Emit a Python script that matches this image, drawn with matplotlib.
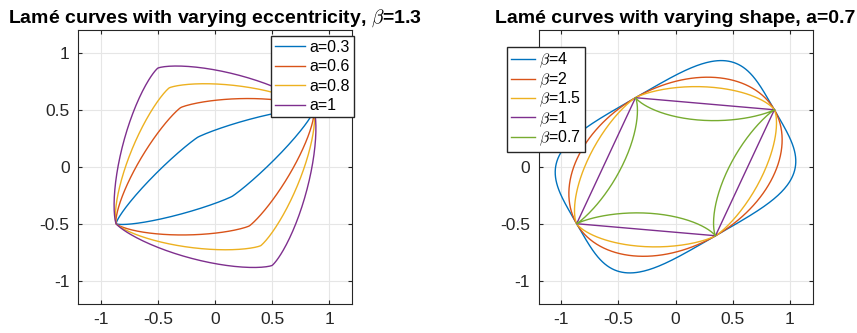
import numpy as np
import matplotlib
matplotlib.use("Agg")
import matplotlib.pyplot as plt

plt.rcParams['font.family'] = ['Liberation Sans', 'DejaVu Sans']
plt.rcParams['mathtext.fontset'] = 'cm'

# Parameters of the two families of Lamé curves
ecc_values = [0.3, 0.6, 0.8, 1.0]
ecc_labels = ['a=0.3', 'a=0.6', 'a=0.8', 'a=1']
beta_fixed = 1.3

shape_values = [4, 2, 1.5, 1, 0.7]
shape_labels = [r'$\beta$=4', r'$\beta$=2', r'$\beta$=1.5', r'$\beta$=1', r'$\beta$=0.7']
a_fixed = 0.7

rotation_deg = 30
ticks = [-1, -0.5, 0, 0.5, 1]
tick_labels = ['-1', '-0.5', '0', '0.5', '1']

colors = ['#0072BD', '#D95319', '#EDB120', '#7E2F8E', '#77AC30']


def lame(a, beta, n=400):
    t = np.linspace(0, 2 * np.pi, n)
    c, s = np.cos(t), np.sin(t)
    x = np.sign(c) * np.abs(c) ** (2.0 / beta)
    y = a * np.sign(s) * np.abs(s) ** (2.0 / beta)
    th = np.deg2rad(rotation_deg)
    xr = x * np.cos(th) - y * np.sin(th)
    yr = x * np.sin(th) + y * np.cos(th)
    return xr, yr


fig = plt.figure(figsize=(8.57, 3.33), dpi=100)
W, H = 857, 333
ax1 = fig.add_axes([78 / W, 1 - 303.5 / H, 274 / W, 273.5 / H])
ax2 = fig.add_axes([538.5 / W, 1 - 303.5 / H, 274 / W, 273.5 / H])


def style(ax):
    ax.set_xlim(-1.2, 1.2)
    ax.set_ylim(-1.2, 1.2)
    ax.set_xticks(ticks)
    ax.set_yticks(ticks)
    ax.set_xticklabels(tick_labels)
    ax.set_yticklabels(tick_labels)
    ax.grid(True, color='#e6e6e6', linewidth=0.8)
    ax.set_axisbelow(True)
    for sp in ax.spines.values():
        sp.set_color('#262626')
        sp.set_linewidth(0.8)
    ax.tick_params(direction='in', length=3, width=0.8, color='#262626',
                   labelsize=12.5, labelcolor='#262626', top=True, right=True,
                   pad=6)


legend_kw = dict(loc='upper left', bbox_transform=fig.transFigure,
                 fontsize=11.5, frameon=True, fancybox=False,
                 edgecolor='#262626', framealpha=1,
                 handletextpad=0.25, borderpad=0.25,
                 borderaxespad=0)

for a, lab, col in zip(ecc_values, ecc_labels, colors):
    x, y = lame(a, beta_fixed)
    ax1.plot(x, y, color=col, linewidth=1.0, label=lab)
style(ax1)
ax1.set_title(r'Lamé curves with varying eccentricity, $\beta$=1.3',
              fontsize=14, fontweight='bold', pad=5)
ax1.legend(bbox_to_anchor=(271 / W, 1 - 36 / H), labelspacing=0.28,
           handlelength=1.9, **legend_kw)

for b, lab, col in zip(shape_values, shape_labels, colors):
    x, y = lame(a_fixed, b)
    ax2.plot(x, y, color=col, linewidth=1.0, label=lab)
style(ax2)
ax2.set_title('Lamé curves with varying shape, a=0.7',
              fontsize=14, fontweight='bold', pad=5)
ax2.legend(bbox_to_anchor=(507 / W, 1 - 47 / H), labelspacing=0.0,
           handlelength=1.5, **legend_kw)

fig.savefig('out.png', dpi=100)
